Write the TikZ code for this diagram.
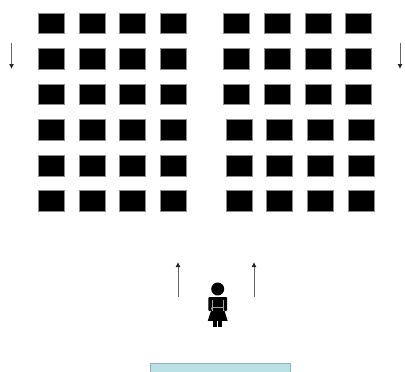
\documentclass[tikz,border=0pt]{standalone}
\usepackage{tikz}
\usetikzlibrary{arrows.meta,positioning}
\definecolor{boardfill}{HTML}{B9E0E4}
\definecolor{boardline}{HTML}{8FB3B8}

\begin{document}
\begin{tikzpicture}[
  x=1pt, y=-1pt,
  desk/.style={rectangle, fill=black, draw=black!45, line width=0.3pt,
               minimum width=26pt, minimum height=20.6pt, inner sep=0pt},
  board/.style={rectangle, fill=boardfill, draw=boardline,
                line width=1pt, minimum width=140pt, minimum height=24pt,
                inner sep=0pt},
  head/.style={circle, fill=black, minimum size=13pt, inner sep=0pt},
  arr/.style={draw=black!60,-{Latex[length=5pt,width=5pt,color=black!85]},line width=0.9pt}
]
\useasboundingbox (0,0) rectangle (405,372);
\clip (0,0) rectangle (405,372);
% Desks, left block
\foreach \row/\ypos in {1/23,2/58.5,3/94,4/129.7,5/165.5,6/200.8} {
  \foreach \col/\xpos in {1/51.2,2/92,3/132.6,4/173} {
    \node[desk] (l\row\col) at (\xpos,\ypos) {};
  }
}
% Desks, right block (the lower rows sit a little further right)
\foreach \row/\ypos in {1/23,2/58.5,3/94} {
  \foreach \col/\xpos in {1/236.2,2/277,3/317.8,4/358} {
    \node[desk] (r\row\col) at (\xpos,\ypos) {};
  }
}
\foreach \row/\ypos in {4/129.7,5/165.5,6/200.8} {
  \foreach \col/\xpos in {1/238.8,2/279.5,3/320,4/360.7} {
    \node[desk] (r\row\col) at (\xpos,\ypos) {};
  }
}
% Walking directions
\coordinate (lfrom) at (11.5,43);
\coordinate (lto) at (11.5,69);
\coordinate (rfrom) at (400,43);
\coordinate (rto) at (400,69);
\coordinate (ufrom) at (178,297);
\coordinate (uto) at (178,262);
\coordinate (vfrom) at (254,297);
\coordinate (vto) at (254,262);
\draw[arr] (lfrom) -- (lto);
\draw[arr] (rfrom) -- (rto);
\draw[arr] (ufrom) -- (uto);
\draw[arr] (vfrom) -- (vto);
% Person
\node[head] (hd) at (217.7,289) {};
\fill[black, rounded corners=1pt] (208.3,311) -- (208.3,297) -- (227.1,297) -- (227.1,311)
  -- (224.2,311) -- (224.2,307) -- (211.2,307) -- (211.2,311) -- cycle;
\fill[black] (212.5,306) -- (223,306) -- (227.6,320.8) -- (207.8,320.8) -- cycle;
\fill[black] (213,320) rectangle (217,327);
\fill[black] (218.4,320) rectangle (222.4,327);
\draw[black!35, line width=0.6pt] (212,300) -- (212,311);
\draw[black!35, line width=0.6pt] (223.4,300) -- (223.4,311);
\draw[black!35, line width=0.7pt] (212.6,307.2) -- (222.8,307.2);
% Front of the room
\node[board] (brd) at (220,375.3) {};
\end{tikzpicture}
\end{document}
